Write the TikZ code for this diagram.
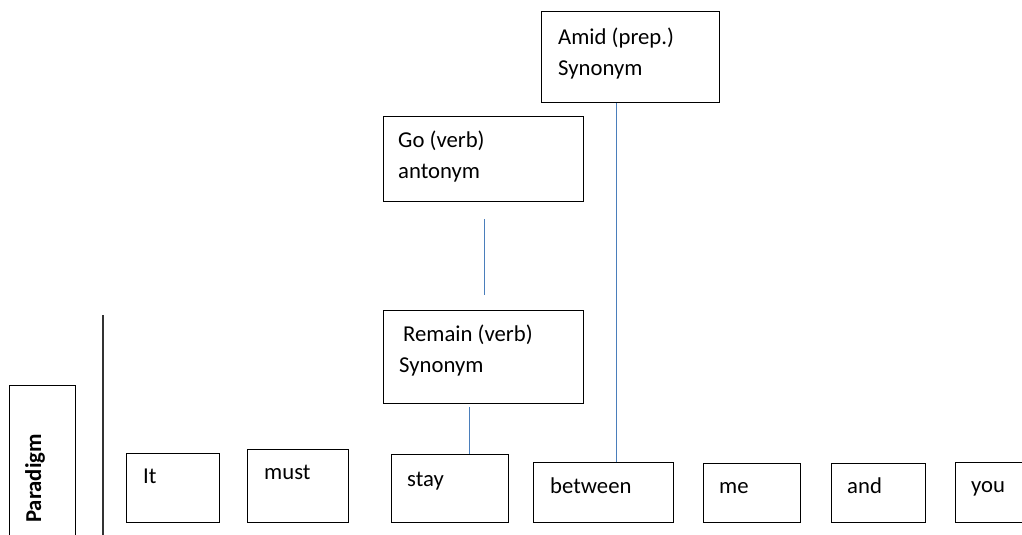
\documentclass[tikz,border=0pt]{standalone}
\usepackage{fontspec}
\setmainfont{Carlito}
\usepackage{tikz}
\usetikzlibrary{calc}
\definecolor{LinkBlue}{HTML}{4A7EBB}
\definecolor{AxisGray}{HTML}{333333}
\tikzset{
  word box/.style={
    draw=black,
    line width=1pt,
    anchor=north west,
    inner sep=0pt
  },
  word text/.style={
    anchor=base west,
    inner sep=0pt,
    align=left,
    font=\fontsize{22.7}{31}\selectfont
  },
  sense link/.style={draw=LinkBlue, line width=1.2pt}
}

\begin{document}
\begin{tikzpicture}[x=1pt, y=-1pt]
  \clip (0,0) rectangle (1022,535);
  \fill[white] (0,0) rectangle (1022,535);

  % paradigm axis
  \node[word box, minimum width=66pt, minimum height=170pt] (para) at (9,385) {};
  \node[word text, font=\fontsize{22.7}{31}\selectfont\bfseries, rotate=90]
    (para-t) at (41,523) {Paradigm};
  \coordinate (axis-top) at (103,315);
  \coordinate (axis-bot) at (103,540);
  \draw[AxisGray, line width=2pt] (axis-top) -- (axis-bot);

  % sentence row
  \node[word box, minimum width=93pt, minimum height=69pt] (it) at (126,453) {};
  \node[word text] (it-t) at (143,483) {It};
  \node[word box, minimum width=101pt, minimum height=73pt] (must) at (247,449) {};
  \node[word text] (must-t) at (264,479) {must};
  \node[word box, minimum width=117pt, minimum height=68pt] (stay) at (391,454) {};
  \node[word text] (stay-t) at (407,486) {stay};
  \node[word box, minimum width=140pt, minimum height=60pt] (between) at (533,462) {};
  \node[word text] (between-t) at (550,493) {between};
  \node[word box, minimum width=97pt, minimum height=59pt] (me) at (703,463) {};
  \node[word text] (me-t) at (719,493) {me};
  \node[word box, minimum width=94pt, minimum height=59pt] (and) at (831,463) {};
  \node[word text] (and-t) at (847,493) {and};
  \node[word box, minimum width=90pt, minimum height=60pt] (you) at (955,462) {};
  \node[word text] (you-t) at (971,492) {you};

  % substitutes (base = last line)
  \node[word box, minimum width=200pt, minimum height=93pt] (remain) at (383,310) {};
  \node[word text] (remain-t) at (399,372) {\hspace{4pt}Remain (verb)\\Synonym};
  \node[word box, minimum width=200pt, minimum height=85pt] (go) at (383,116) {};
  \node[word text] (go-t) at (398,178) {Go (verb)\\antonym};
  \node[word box, minimum width=178pt, minimum height=91pt] (amid) at (541,11) {};
  \node[word text] (amid-t) at (558,75) {Amid (prep.)\\Synonym};

  % links
  \draw[sense link] ([xshift=19.5pt]stay.north) -- ([xshift=19.5pt, yshift=-3pt]stay.north |- remain.south);
  \draw[sense link] ([xshift=1pt]go.south) ++(0,17) -- ([xshift=1pt, yshift=15pt]remain.north);
  \draw[sense link] ([xshift=13pt]between.north) -- ([xshift=13pt]between.north |- amid.south);
\end{tikzpicture}
\end{document}
